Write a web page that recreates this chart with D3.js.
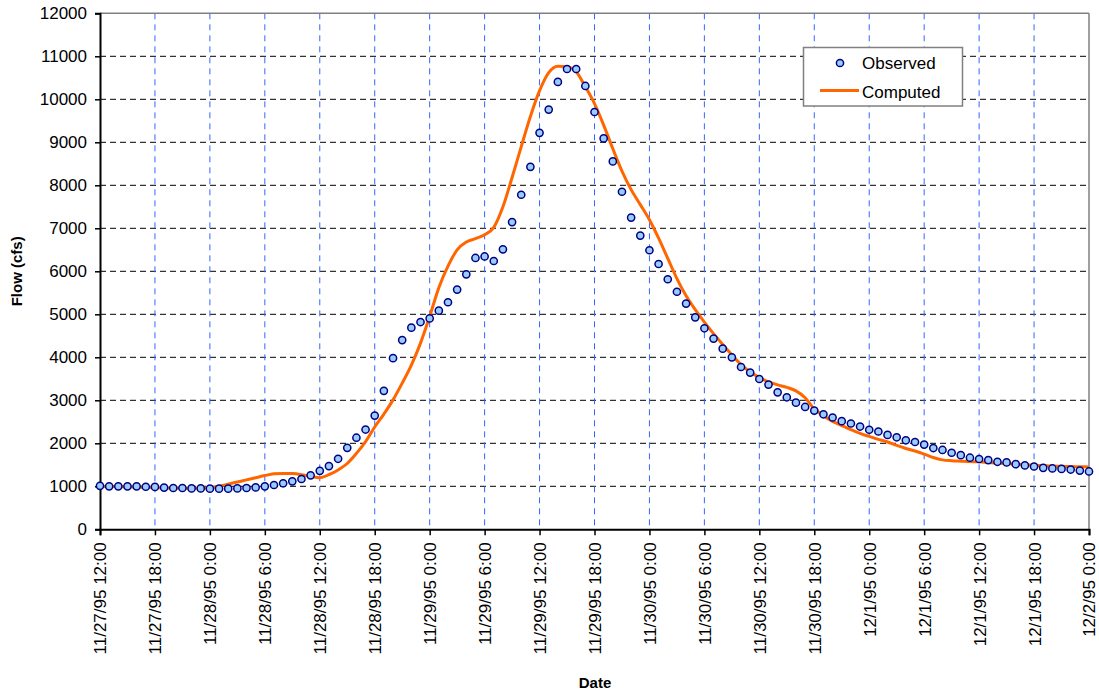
<!DOCTYPE html>
<html>
<head>
<meta charset="utf-8">
<script src="https://cdn.jsdelivr.net/npm/d3@7"></script>
<style>
  html, body { margin: 0; padding: 0; background: #fff; }
  svg { display: block; }
  text { font-family: Arial, "Liberation Sans", sans-serif; }
</style>
</head>
<body>
<script>
// Hours since 11/27/95 12:00 (hourly data)
const observed = [
  1010,1000,1000,1000,1000,990,985,970,960,960,950,950,
  945,945,945,950,960,975,1000,1030,1070,1115,1170,1255,
  1360,1470,1640,1895,2130,2320,2645,3220,3980,4400,4690,4820,
  4905,5085,5280,5575,5930,6310,6345,6240,6510,7145,7780,8430,
  9220,9760,10405,10705,10705,10310,9705,9090,8555,7850,7250,6830,
  6490,6170,5815,5525,5250,4930,4675,4435,4200,4000,3775,3645,
  3495,3365,3185,3070,2945,2845,2760,2675,2600,2515,2460,2390,
  2315,2275,2195,2140,2070,2030,1970,1890,1845,1780,1725,1665,
  1635,1610,1570,1555,1515,1485,1460,1430,1415,1405,1390,1365,
  1345
];
const computed = [
  1000,995,990,985,980,975,970,965,960,960,955,955,
  965,1000,1050,1100,1150,1200,1250,1290,1300,1295,1270,1230,
  1200,1270,1380,1530,1765,2040,2380,2680,3010,3400,3820,4330,
  4950,5620,6120,6500,6680,6760,6850,7020,7500,8180,8900,9600,
  10200,10620,10770,10760,10640,10290,9900,9400,8850,8330,7900,7550,
  7200,6770,6300,5830,5430,5110,4820,4550,4300,4060,3830,3660,
  3530,3430,3360,3300,3220,3060,2800,2640,2510,2410,2320,2230,
  2160,2090,2030,1950,1880,1820,1750,1670,1615,1595,1585,1575,
  1570,1555,1540,1530,1520,1500,1490,1480,1470,1465,1460,1455,
  1450
];
const tickHours = [0,6,12,18,24,30,36,42,48,54,60,66,72,78,84,90,96,102,108];
const tickLabels = [
  "11/27/95 12:00","11/27/95 18:00","11/28/95 0:00","11/28/95 6:00","11/28/95 12:00",
  "11/28/95 18:00","11/29/95 0:00","11/29/95 6:00","11/29/95 12:00","11/29/95 18:00",
  "11/30/95 0:00","11/30/95 6:00","11/30/95 12:00","11/30/95 18:00","12/1/95 0:00",
  "12/1/95 6:00","12/1/95 12:00","12/1/95 18:00","12/2/95 0:00"
];
const yTicks = [0,1000,2000,3000,4000,5000,6000,7000,8000,9000,10000,11000,12000];
const seriesNames = ["Observed","Computed"];

(function () {
const W = 1099, H = 692;
const pL = 100, pR = 1089, pT = 13.3, pB = 529.3;

const svg = d3.select("body").append("svg").attr("width", W).attr("height", H);

const x = d3.scaleLinear().domain([0,108]).range([pL, pR]);
const y = d3.scaleLinear().domain([0,12000]).range([pB, pT]);

// gridlines
const grid = svg.append("g");
grid.selectAll("line.h").data(yTicks.filter(d => d > 0 && d < 12000)).enter().append("line")
  .attr("x1", pL).attr("x2", pR).attr("y1", d => y(d)).attr("y2", d => y(d))
  .attr("stroke", "#000").attr("stroke-width", 1).attr("stroke-dasharray", "6,4");
grid.selectAll("line.v").data(tickHours.filter(d => d > 0 && d < 108)).enter().append("line")
  .attr("y1", pT).attr("y2", pB).attr("x1", d => x(d)).attr("x2", d => x(d))
  .attr("stroke", "#3366FF").attr("stroke-width", 1).attr("stroke-dasharray", "6,5");

// top / right border
svg.append("line").attr("x1", pL).attr("x2", pR).attr("y1", pT).attr("y2", pT)
  .attr("stroke", "#808080").attr("stroke-width", 1.5);
svg.append("line").attr("x1", pR).attr("x2", pR).attr("y1", pT).attr("y2", pB)
  .attr("stroke", "#808080").attr("stroke-width", 1.5);

// axes
const yAxis = d3.axisLeft(y).tickValues(yTicks).tickSize(5).tickPadding(8).tickFormat(d3.format("d"));
const gy = svg.append("g").attr("transform", `translate(${pL},0)`).call(yAxis);
gy.select(".domain").attr("stroke", "#000").attr("stroke-width", 2);
gy.selectAll(".tick line").attr("stroke", "#000").attr("stroke-width", 1.5);
gy.selectAll(".tick text").attr("font-size", 17).attr("fill", "#000")
  .attr("font-family", "Arial, 'Liberation Sans', sans-serif");

const xAxis = d3.axisBottom(x).tickValues(tickHours).tickSize(6)
  .tickFormat((d, i) => tickLabels[i]);
const gx = svg.append("g").attr("transform", `translate(0,${pB})`).call(xAxis);
gx.select(".domain").attr("stroke", "#000").attr("stroke-width", 2);
gx.selectAll(".tick line").attr("stroke", "#000").attr("stroke-width", 1.5);
gx.selectAll(".tick text").attr("font-size", 17).attr("fill", "#000")
  .attr("font-family", "Arial, 'Liberation Sans', sans-serif")
  .attr("transform", "rotate(-90)")
  .attr("text-anchor", "end").attr("x", -13).attr("y", 0).attr("dy", "0.35em");

// computed line
const line = d3.line().x((d, i) => x(i)).y(d => y(d)).curve(d3.curveMonotoneX);
svg.append("path").datum(computed).attr("d", line)
  .attr("fill", "none").attr("stroke", "#FF6600").attr("stroke-width", 3);

// observed points
svg.append("g").selectAll("circle").data(observed).enter().append("circle")
  .attr("cx", (d, i) => x(i)).attr("cy", d => y(d)).attr("r", 3.6)
  .attr("fill", "#99CCFF").attr("stroke", "#000080").attr("stroke-width", 1.5);

// axis titles
svg.append("text").attr("x", 595).attr("y", 688).attr("text-anchor", "middle")
  .attr("font-size", 15).attr("font-weight", "bold").text("Date");
svg.append("text").attr("transform", `translate(22,${(pT + pB) / 2}) rotate(-90)`)
  .attr("text-anchor", "middle").attr("font-size", 15).attr("font-weight", "bold").text("Flow (cfs)");

// legend
const lg = svg.append("g");
lg.append("rect").attr("x", 803.5).attr("y", 47.5).attr("width", 159).attr("height", 58.5)
  .attr("fill", "#fff").attr("stroke", "#808080").attr("stroke-width", 1.5);
lg.append("circle").attr("cx", 840).attr("cy", 63).attr("r", 3.6)
  .attr("fill", "#99CCFF").attr("stroke", "#000080").attr("stroke-width", 1.5);
lg.append("line").attr("x1", 820).attr("x2", 859).attr("y1", 90.5).attr("y2", 90.5)
  .attr("stroke", "#FF6600").attr("stroke-width", 3);
lg.append("text").attr("x", 862).attr("y", 69).attr("font-size", 17).text(seriesNames[0]);
lg.append("text").attr("x", 862).attr("y", 98).attr("font-size", 17).text(seriesNames[1]);
})();
</script>
</body>
</html>
